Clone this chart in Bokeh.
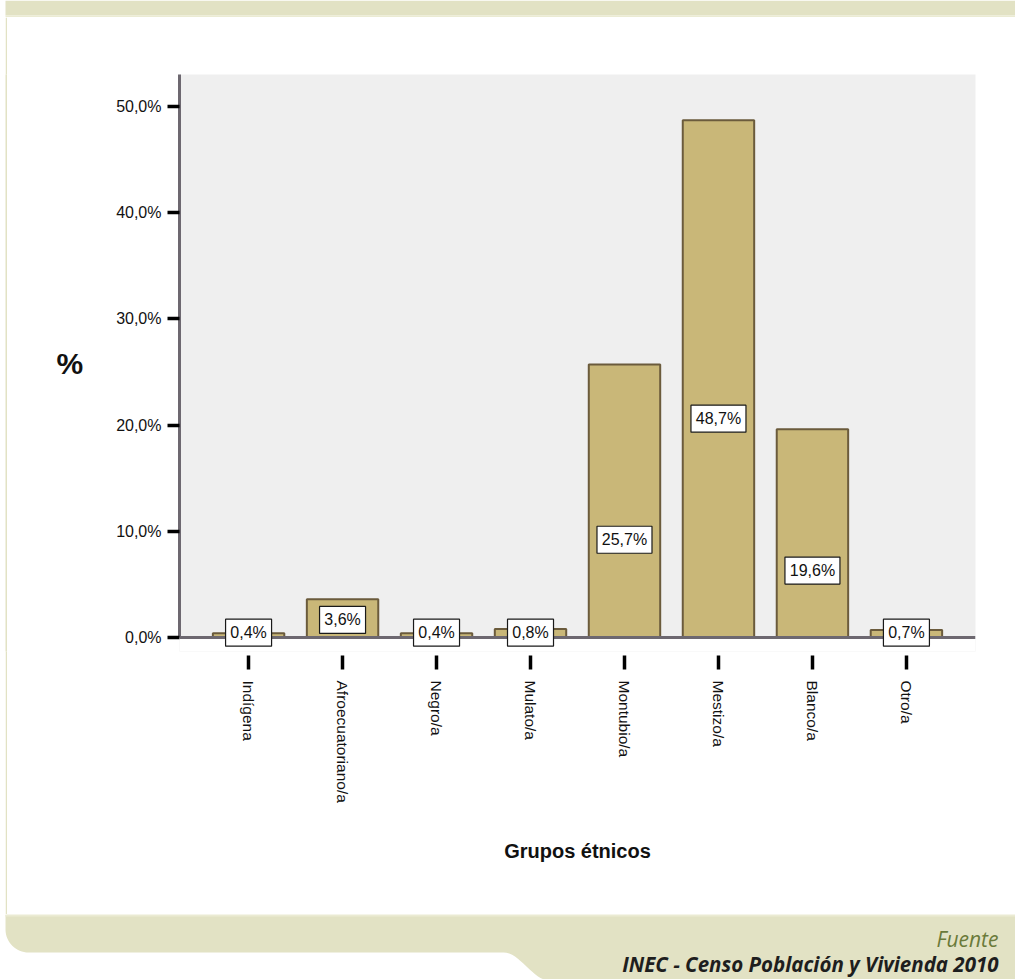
import math
from bokeh.plotting import figure
from bokeh.layouts import column, row
from bokeh.models import (ColumnDataSource, FixedTicker, FactorRange, Range1d,
                          BoxAnnotation, Span, Spacer)
from bokeh.core.properties import value
from bokeh.embed import file_html
from bokeh.resources import INLINE

# ---------------- data ----------------
categories = ["Indígena", "Afroecuatoriano/a", "Negro/a", "Mulato/a",
              "Montubio/a", "Mestizo/a", "Blanco/a", "Otro/a"]
percentages = [0.4, 3.6, 0.4, 0.8, 25.7, 48.7, 19.6, 0.7]
value_labels = ["0,4%", "3,6%", "0,4%", "0,8%", "25,7%", "48,7%", "19,6%", "0,7%"]
label_y = [0.45, 1.65, 0.45, 0.45, 9.2, 20.6, 6.3, 0.45]
y_ticks = [0, 10, 20, 30, 40, 50]
y_tick_labels = ["0,0%", "10,0%", "20,0%", "30,0%", "40,0%", "50,0%"]
x_title = "Grupos étnicos"
y_title = "%"
source_title = "Fuente"
source_text = "INEC - Censo Población y Vivienda 2010"

# ---------------- styles ----------------
BEIGE = "#e2e2c4"
BEIGE_LIGHT = "#ebebd3"
BAR_FILL = "#c9b778"
BAR_LINE = "#6b5b3c"
AXIS_GRAY = "#6d6870"
FONT = "Liberation Sans"

W = 1015
TOP_H = 17
BOT_H = 65
MID_H = 979 - TOP_H - BOT_H
GAP_W = 5
STRIP_W = 2
CHART_W = W - GAP_W - STRIP_W


def deco_fig(width, height):
    f = figure(width=width, height=height, x_range=Range1d(0, width),
               y_range=Range1d(height, 0), output_backend="svg",
               toolbar_location=None, x_axis_location=None,
               y_axis_location=None, min_border=0)
    f.outline_line_color = None
    f.xgrid.grid_line_color = None
    f.ygrid.grid_line_color = None
    f.background_fill_color = "white"
    f.border_fill_color = "white"
    return f


# ---- top strip ----
top = deco_fig(W, TOP_H)
top.quad(left=5, right=W, top=0, bottom=15, fill_color=BEIGE, line_color=None)
top.quad(left=5, right=W, top=15, bottom=17, fill_color=BEIGE_LIGHT, line_color=None)

# ---- left strip ----
left = deco_fig(STRIP_W, MID_H)
left.background_fill_color = BEIGE
left.border_fill_color = BEIGE

# ---- chart ----
src = ColumnDataSource(dict(
    cat=categories, pct=percentages, lab=value_labels, ly=label_y,
    bw=[9 * len(s) + 10 for s in value_labels],
))

p = figure(width=CHART_W, height=MID_H,
           x_range=FactorRange(*categories, range_padding=0.05875),
           y_range=Range1d(-1.32, 53.0),
           output_backend="svg", toolbar_location=None,
           min_border_left=179 - GAP_W - STRIP_W, min_border_right=40,
           min_border_top=57, min_border_bottom=263)
p.background_fill_color = "#efefef"
p.border_fill_color = "white"
p.outline_line_color = None
p.xgrid.grid_line_color = None
p.ygrid.grid_line_color = None

# white area below the zero line inside the frame
p.add_layout(BoxAnnotation(top=0, fill_color="white", fill_alpha=1.0,
                           line_color=None, level="underlay"))

p.vbar(x="cat", top="pct", bottom=0, width=0.76, source=src,
       fill_color=BAR_FILL, line_color=BAR_LINE, line_width=2)

# zero baseline of the x axis
p.add_layout(Span(location=0, dimension="width", line_color=AXIS_GRAY,
                  line_width=3))

boxes = p.rect(x="cat", y="ly", width="bw", height=27, width_units="screen",
               height_units="screen", fill_color="white", line_color="#1a1a1a",
               line_width=1.2, source=src)
boxes.level = "overlay"
txt = p.text(x="cat", y="ly", text="lab", text_align="center",
             text_baseline="middle", text_font=value(FONT),
             text_font_size="16px", text_color="#111111", source=src)
txt.level = "overlay"

# ---- x axis ----
xa = p.xaxis[0]
xa.axis_line_color = None
xa.major_tick_in = -4
xa.major_tick_out = 18
xa.major_tick_line_color = "black"
xa.major_tick_line_width = 3.5
xa.minor_tick_line_color = None
xa.major_label_orientation = -math.pi / 2
xa.major_label_standoff = 11
xa.major_label_text_font = FONT
xa.major_label_text_font_size = "15.5px"
xa.major_label_text_color = "#111111"
xa.axis_label = x_title
xa.axis_label_text_font = FONT
xa.axis_label_text_font_style = "bold"
xa.axis_label_text_font_size = "20px"
xa.axis_label_text_color = "#111111"
xa.axis_label_standoff = 34

# ---- y axis ----
ya = p.yaxis[0]
ya.ticker = FixedTicker(ticks=y_ticks)
ya.major_label_overrides = {t: s for t, s in zip(y_ticks, y_tick_labels)}
ya.bounds = (0, 53.0)
ya.axis_line_color = AXIS_GRAY
ya.axis_line_width = 3
ya.major_tick_in = 0
ya.major_tick_out = 12
ya.major_tick_line_color = "black"
ya.major_tick_line_width = 3.5
ya.minor_tick_line_color = None
ya.major_label_standoff = 6
ya.major_label_text_font = FONT
ya.major_label_text_font_size = "16px"
ya.major_label_text_color = "#111111"
ya.axis_label = y_title
ya.axis_label_text_font = FONT
ya.axis_label_text_font_style = "bold"
ya.axis_label_text_font_size = "30px"
ya.axis_label_text_color = "#111111"
ya.axis_label_standoff = 30
if "axis_label_orientation" in ya.properties():
    ya.axis_label_orientation = "horizontal"

# ---- bottom band ----
bot = deco_fig(W, BOT_H)
xs, ys = [5, W, W], [0, 0, BOT_H + 2]
n = 16
for i in range(n + 1):
    t = 1 - i / n
    xs.append(503 + 46 * t)
    ys.append(38 + 28 * (1 - math.cos(math.pi * t)) / 2)
r = 23
ccx, ccy = 5 + r, 38 - r
for i in range(n + 1):
    a = math.pi / 2 + (math.pi / 2) * i / n
    xs.append(ccx + r * math.cos(a))
    ys.append(ccy + r * math.sin(a))
bot.patch(xs, ys, fill_color=BEIGE, line_color=None)
bot.quad(left=5, right=W, top=0, bottom=2, fill_color=BEIGE_LIGHT, line_color=None)
bot.text(x=[998], y=[24], text=[source_title], text_font=value("Open Sans"),
         text_font_style="italic", text_font_size="21px", text_color="#6a7a3a",
         text_align="right", text_baseline="alphabetic")
bot.text(x=[998], y=[49], text=[source_text], text_font=value("Open Sans"),
         text_font_style="bold italic", text_font_size="20.5px",
         text_color="#1e1e1e", text_align="right", text_baseline="alphabetic")

layout = column(top, row(Spacer(width=GAP_W, height=MID_H), left, p, spacing=0),
                bot, spacing=0)

open("out.html", "w").write(file_html(layout, INLINE))
